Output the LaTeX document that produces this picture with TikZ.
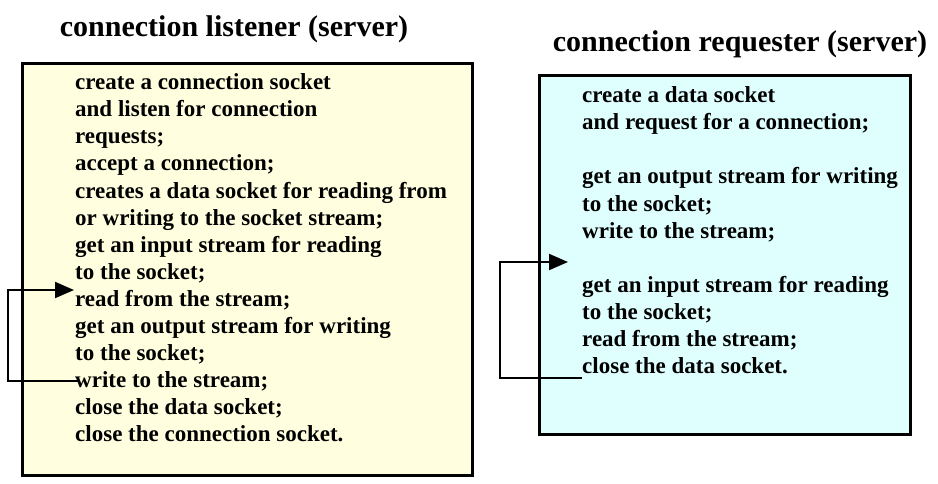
\documentclass[tikz,border=0pt]{standalone}
\usepackage{fontspec}
\setmainfont{Liberation Serif}
\usetikzlibrary{arrows.meta}
\definecolor{lyellow}{HTML}{FFFFE0}
\definecolor{lcyan}{HTML}{DFFFFF}
\begin{document}
\begin{tikzpicture}[x=1pt,y=-1pt,
  panel/.style={draw=black,line width=3pt},
  title/.style={font=\bfseries\fontsize{30}{34}\selectfont,inner sep=0pt,anchor=base},
  body/.style={font=\bfseries\fontsize{23}{27.1}\selectfont,inner sep=0pt,anchor=north west,align=left},
  loop/.style={line width=2pt,-{Triangle[length=19pt,width=16pt]}}]
\useasboundingbox (0,0) rectangle (938,483);
\fill[white] (0,0) rectangle (938,483);
\draw[panel,fill=lyellow] (22,63) rectangle (472,475);
\draw[panel,fill=lcyan] (539,75) rectangle (910,434);
\node[title] (t1) at (234,36) {connection listener (server)};
\node[title] (t2) at (740,51) {connection requester (server)};
\node[body] (b1) at (75,73.5) {create a connection socket\\
and listen for connection\\
requests;\\
accept a connection;\\
creates a data socket for reading from\\
or writing to the socket stream;\\
get an input stream for reading\\
to the socket;\\
read from the stream;\\
get an output stream for writing\\
to the socket;\\
write to the stream;\\
close the data socket;\\
close the connection socket.};
\node[body] (b2) at (582,86.5) {create a data socket\\
and request for a connection;\\
\mbox{}\\
get an output stream for writing\\
to the socket;\\
write to the stream;\\
\mbox{}\\
get an input stream for reading\\
to the socket;\\
read from the stream;\\
close the data socket.};
\coordinate (l1) at (78,381);
\coordinate (l2) at (74,290);
\coordinate (r1) at (582,378);
\coordinate (r2) at (568,262);
\draw[loop] (l1) -- (8,381) -- (8,290) -- (l2);
\draw[loop] (r1) -- (500,378) -- (500,262) -- (r2);
\end{tikzpicture}
\end{document}
